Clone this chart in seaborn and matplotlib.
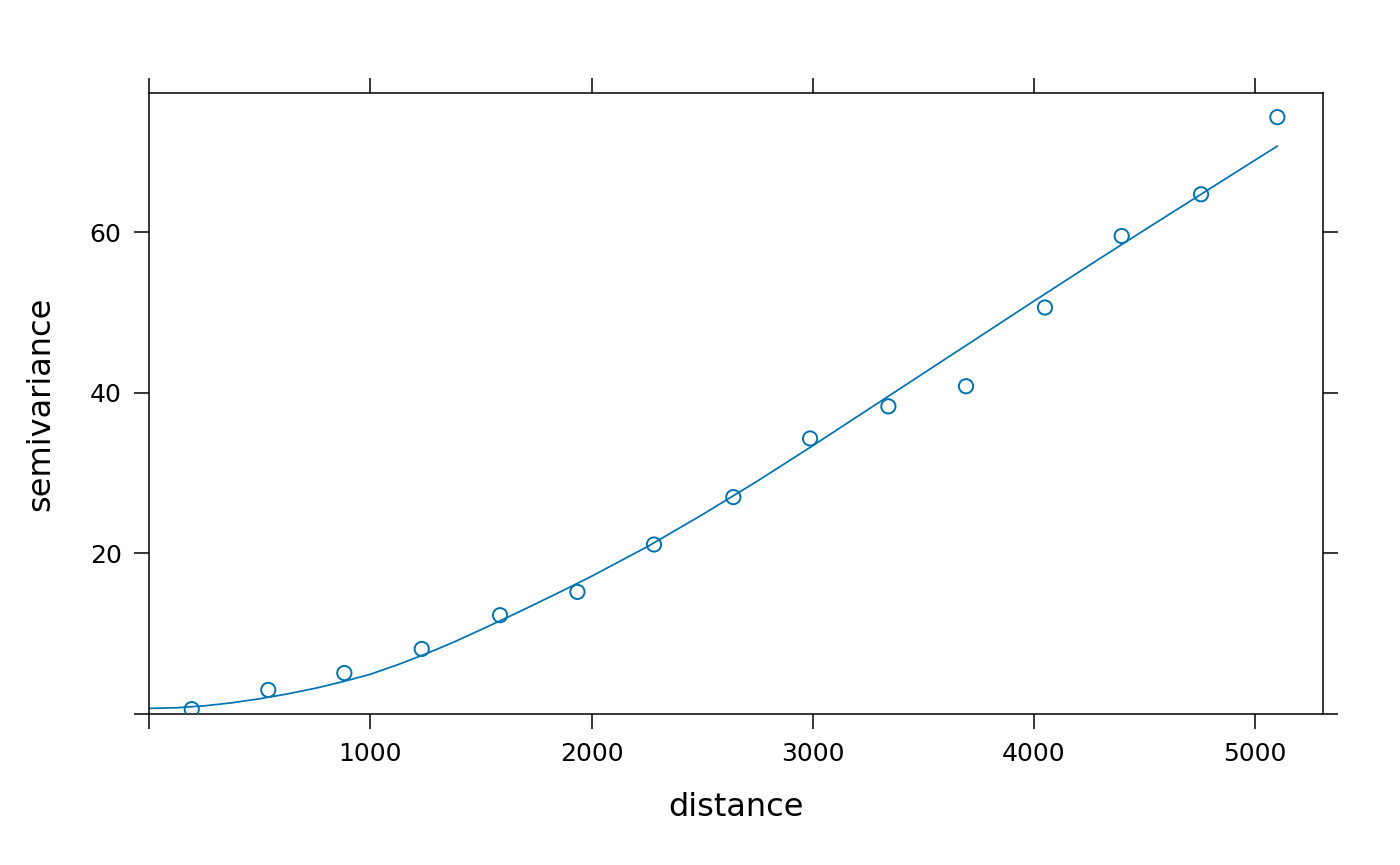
import matplotlib
matplotlib.use("Agg")
import matplotlib.pyplot as plt
import seaborn as sns
import pandas as pd

# Empirical semivariogram points
distance = [192, 538, 882, 1232, 1586, 1936, 2282, 2641, 2988, 3342, 3693, 4050, 4397, 4756, 5101]
gamma = [0.6, 3.0, 5.1, 8.1, 12.3, 15.2, 21.1, 27.0, 34.3, 38.3, 40.8, 50.6, 59.5, 64.7, 74.3]

# Fitted model curve
model_dist = [0, 125, 250, 375, 500, 625, 750, 875, 1000, 1125, 1250, 1375, 1500, 1625,
              1750, 1875, 2000, 2250, 2500, 2750, 3000,
              3250, 3500, 3750, 4000, 4250, 4500, 4750, 5000, 5101]
model_gamma = [0.70, 0.78, 1.02, 1.40, 1.90, 2.50, 3.20, 4.02, 4.95, 6.15, 7.48, 8.93, 10.5, 12.1,
               13.75, 15.43, 17.15, 20.8, 24.8, 29.0, 33.4,
               37.9, 42.4, 46.9, 51.4, 55.85, 60.25, 64.6, 68.95, 70.7]

x_ticks = [0, 1000, 2000, 3000, 4000, 5000]
x_tick_labels = ["", "1000", "2000", "3000", "4000", "5000"]
y_ticks = [0, 20, 40, 60]
y_tick_labels = ["", "20", "40", "60"]

COLOR = "#0072B2"

sns.set_theme(style="white")
plt.rcParams["font.family"] = ["DejaVu Sans"]

pts = pd.DataFrame({"distance": distance, "gamma": gamma})
mdl = pd.DataFrame({"distance": model_dist, "gamma": model_gamma})

fig = plt.figure(figsize=(14, 8.65), dpi=100)
ax = fig.add_axes([149.3 / 1400, 1 - 714 / 865, (1322.7 - 149.3) / 1400, (714 - 93.3) / 865])

sns.lineplot(data=mdl, x="distance", y="gamma", ax=ax, color=COLOR, linewidth=1.25,
             estimator=None, sort=False)
sns.scatterplot(data=pts, x="distance", y="gamma", ax=ax, marker="o", s=105,
                facecolor="none", edgecolor=COLOR, linewidth=1.4, zorder=3)

ax.set_xlim(0, 5306)
ax.set_ylim(0, 77.27)

ax.set_xticks(x_ticks)
ax.set_xticklabels(x_tick_labels)
ax.set_yticks(y_ticks)
ax.set_yticklabels(y_tick_labels)

ax.tick_params(axis="both", which="major", direction="out", length=11, width=1.1,
               color="black", labelsize=18, labelcolor="black",
               top=True, right=True, bottom=True, left=True,
               labeltop=False, labelright=False)
ax.tick_params(axis="x", pad=9)
ax.tick_params(axis="y", pad=9)

for sp in ax.spines.values():
    sp.set_visible(True)
    sp.set_color("black")
    sp.set_linewidth(1.1)

ax.set_xlabel("distance", fontsize=23, labelpad=19, color="black")
ax.set_ylabel("semivariance", fontsize=23, labelpad=24, color="black")
ax.grid(False)

fig.savefig("out.png", dpi=100, facecolor="white")
